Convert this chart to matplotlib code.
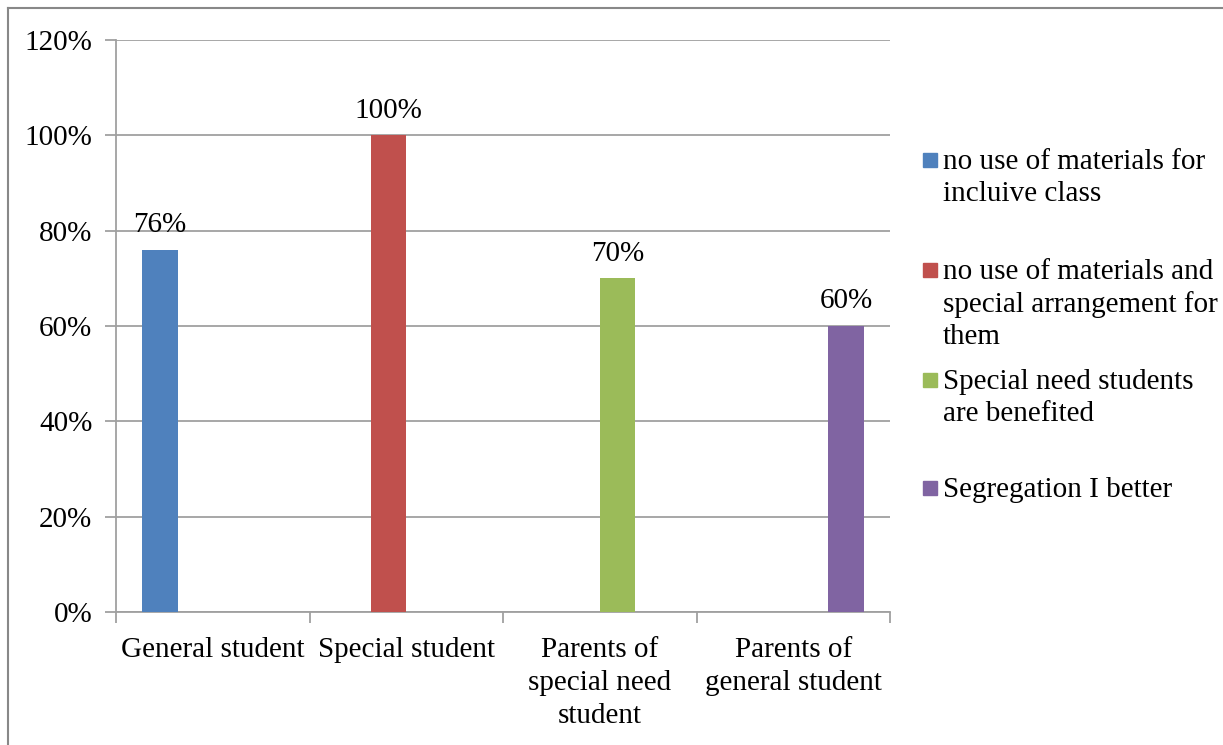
import matplotlib
matplotlib.use("Agg")
import matplotlib.pyplot as plt
import numpy as np
from matplotlib.lines import Line2D
from matplotlib.patches import Rectangle

categories = ["General student", "Special student", "Parents of\nspecial need\nstudent", "Parents of\ngeneral student"]
series_names = ["no use of materials for\nincluive class",
                "no use of materials and\nspecial arrangement for\nthem",
                "Special need students\nare benefited",
                "Segregation I better"]
series_values = [
    [0.76, 0, 0, 0],
    [0, 1.00, 0, 0],
    [0, 0, 0.70, 0],
    [0, 0, 0, 0.60],
]
series_colors = ["#4F81BD", "#C0504D", "#9BBB59", "#8064A2"]
y_ticks = [0, 0.2, 0.4, 0.6, 0.8, 1.0, 1.2]

plt.rcParams['font.family'] = ['Liberation Serif', 'DejaVu Serif']
FS = 21

W, H = 1223, 745
fig = plt.figure(figsize=(W / 100, H / 100), dpi=100)
ax = fig.add_axes([116 / W, 1 - 612 / H, (890 - 116) / W, (612 - 40) / H])

n = len(series_values)
bw = 1 / (n + 1.5)
x = np.arange(len(categories))
grey = "#a0a0a0"
for i, (vals, col) in enumerate(zip(series_values, series_colors)):
    pos = x + (i - (n - 1) / 2) * bw
    ax.bar(pos, vals, width=bw, color=col, zorder=3)
    for p, v in zip(pos, vals):
        if v > 0:
            ax.annotate(f"{v*100:.0f}%", (p, v), xytext=(0, 8.5), textcoords="offset points",
                        ha="center", va="bottom", fontsize=FS, color="black")

ax.set_xlim(-0.5, len(categories) - 0.5)
ax.set_ylim(0, 1.2)
ax.set_yticks(y_ticks)
ax.set_yticklabels([f"{t*100:.0f}%" for t in y_ticks], fontsize=FS)
ax.yaxis.grid(True, color=grey, linewidth=1.3, zorder=0)
ax.set_axisbelow(True)

ax.set_xticks(x)
ax.set_xticklabels(categories, fontsize=FS, linespacing=1.34)
ax.set_xticks(np.arange(len(categories) + 1) - 0.5, minor=True)
ax.tick_params(axis="x", which="major", length=0, pad=18)
ax.tick_params(axis="x", which="minor", length=8, width=1.3, color=grey)
ax.tick_params(axis="y", length=8, width=1.3, color=grey, pad=9)

for s in ["top", "right"]:
    ax.spines[s].set_visible(False)
for s in ["left", "bottom"]:
    ax.spines[s].set_color(grey)
    ax.spines[s].set_linewidth(1.3)

# legend (drawn manually to align markers with first lines)
leg_y = [160, 270, 380, 488]
for name, col, yy in zip(series_names, series_colors, leg_y):
    fig.patches.append(Rectangle((923 / W, 1 - (yy + 7) / H), 14 / W, 14 / H,
                                 transform=fig.transFigure, color=col, figure=fig))
    fig.text(943 / W, 1 - (yy - 11) / H, name, fontsize=FS, ha="left", va="top",
             linespacing=1.3)

# outer frame
fig.add_artist(Line2D([8 / W, 8 / W], [0, 1 - 8 / H], transform=fig.transFigure, color="#888888", linewidth=1.5))
fig.add_artist(Line2D([8 / W, 1], [1 - 8 / H, 1 - 8 / H], transform=fig.transFigure, color="#888888", linewidth=1.5))

fig.savefig("out.png", dpi=100)
